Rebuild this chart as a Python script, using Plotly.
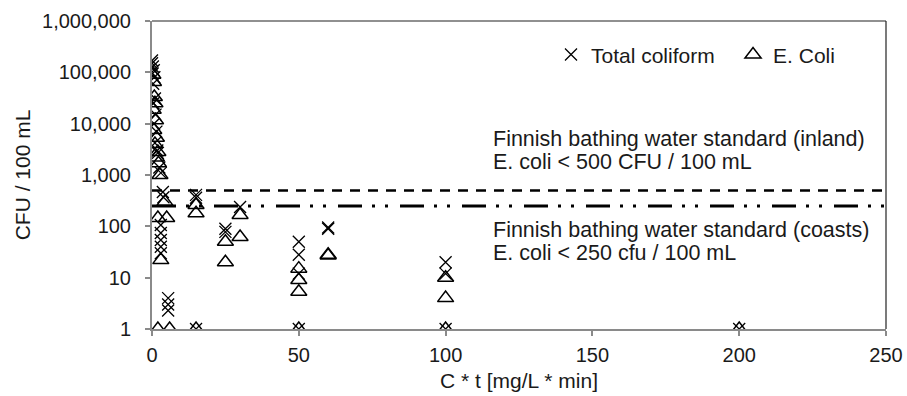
import plotly.graph_objects as go

# ---- data ----
tc_x = [0, 0, 0.3, 0.6, 0.2, 0.8, 0.4, 1.0, 0.5, 1.2, 0.7, 1.5, 1.0, 1.8, 2.0, 2.5, 3.0,
        3.7, 3.9, 3.0, 3.0, 3.0, 3.0, 3.0, 5.5, 5.5, 5.5,
        15, 15, 15, 25, 25, 30, 50, 50, 50, 50, 60, 60, 100, 100, 100, 200]
tc_y = [170000, 150000, 130000, 110000, 95000, 80000, 60000, 31000, 25000, 15000, 10000,
        7000, 4200, 3000, 2700, 1400, 1100,
        465, 370, 106, 74, 54, 40, 30, 4, 3, 2.3,
        410, 360, 1, 90, 78, 238, 50, 28, 12, 1, 95, 90, 20, 12, 1, 1]

ec_x = [0.3, 0.5, 0.8, 1.0, 0.4, 1.2, 0.6, 1.5, 1.0, 2.0, 1.5, 2.2, 2.7, 4.4, 5.0, 2.0, 3.0, 2.0, 6.0,
        15, 15, 15, 25, 25, 30, 30, 50, 50, 50, 50, 60, 60, 100, 100, 100, 200]
ec_y = [90000, 65000, 33000, 25000, 18600, 11700, 7500, 5300, 4000, 2800, 2200, 1700, 1000, 300, 145,
        145, 22, 1, 1,
        260, 180, 1, 50, 20, 166, 62, 15, 9, 5.3, 1, 28, 27, 10, 4, 1, 1]

std_x = [0, 250]
inland_y = [500, 500]
coast_y = [250, 250]

y_tickvals = [1, 10, 100, 1000, 10000, 100000, 1000000]
y_ticktext = ["1", "10", "100", "1,000", "10,000", "100,000", "1,000,000"]
x_tickvals = [0, 50, 100, 150, 200, 250]

FONT = "Liberation Sans, Arial, sans-serif"
TXT = "#1a1a1a"

fig = go.Figure()

fig.add_trace(go.Scatter(x=std_x, y=inland_y, mode="lines", showlegend=False,
                         line=dict(color="black", width=2.5, dash="10px,8px"), hoverinfo="skip"))
fig.add_trace(go.Scatter(x=std_x, y=coast_y, mode="lines", showlegend=False,
                         line=dict(color="black", width=3, dash="24px,10px,3px,10px,3px,12px"),
                         hoverinfo="skip"))

fig.add_trace(go.Scatter(x=tc_x, y=tc_y, mode="markers", name="Total coliform", legend="legend",
                         marker=dict(symbol="x-thin-open", size=12, color="black",
                                     line=dict(color="black", width=1.3))))
fig.add_trace(go.Scatter(x=ec_x, y=ec_y, mode="markers", name="E. Coli", legend="legend2",
                         marker=dict(symbol="triangle-up-open", size=14, color="black",
                                     line=dict(color="black", width=1.5))))

# annotations for the standards
ann_lines = [
    ("Finnish bathing water standard (inland)", 139),
    ("E. coli < 500 CFU / 100 mL", 162),
    ("Finnish bathing water standard (coasts)", 230),
    ("E. coli < 250 cfu / 100 mL", 253),
]
for txt, ypix in ann_lines:
    fig.add_annotation(x=115.5, xref="x", y=(329 - ypix) / 308, yref="paper",
                       text=txt, showarrow=False, xanchor="left", yanchor="middle",
                       font=dict(family=FONT, size=21.5, color=TXT))

# frame top/right in dark
fig.add_shape(type="line", xref="paper", yref="paper", x0=0, x1=1, y0=1, y1=1,
              line=dict(color="#222", width=1.2))
fig.add_shape(type="line", xref="paper", yref="paper", x0=1, x1=1, y0=0, y1=1,
              line=dict(color="#222", width=1.2))

leg_common = dict(orientation="h", xanchor="left", y=0.89, yanchor="middle",
                  bgcolor="rgba(0,0,0,0)", itemwidth=30,
                  font=dict(family=FONT, size=21, color=TXT))

fig.update_layout(
    width=907, height=396,
    margin=dict(l=152, r=21, t=21, b=67, autoexpand=False),
    paper_bgcolor="white", plot_bgcolor="white",
    font=dict(family=FONT, size=20, color=TXT),
    showlegend=True,
    legend=dict(x=0.5436, **leg_common),
    legend2=dict(x=0.7916, **leg_common),
    xaxis=dict(range=[0, 250], tickvals=x_tickvals, showgrid=False, zeroline=False,
               showline=True, linecolor="#8a8a8a", linewidth=2,
               ticks="outside", ticklen=5, tickcolor="#8a8a8a", tickwidth=1.5,
               ticklabelstandoff=2, tickfont=dict(family=FONT, size=20, color=TXT),
               title=dict(text="C * t [mg/L * min]", standoff=8,
                          font=dict(family=FONT, size=21, color=TXT))),
    yaxis=dict(type="log", range=[0, 6], tickvals=y_tickvals, ticktext=y_ticktext,
               showgrid=False, zeroline=False,
               showline=True, linecolor="#8a8a8a", linewidth=2,
               ticks="outside", ticklen=5, tickcolor="#8a8a8a", tickwidth=1.5,
               ticklabelstandoff=10, tickfont=dict(family=FONT, size=20, color=TXT),
               title=dict(text="CFU / 100 mL", standoff=6,
                          font=dict(family=FONT, size=21, color=TXT))),
)

fig.write_html("out.html")
